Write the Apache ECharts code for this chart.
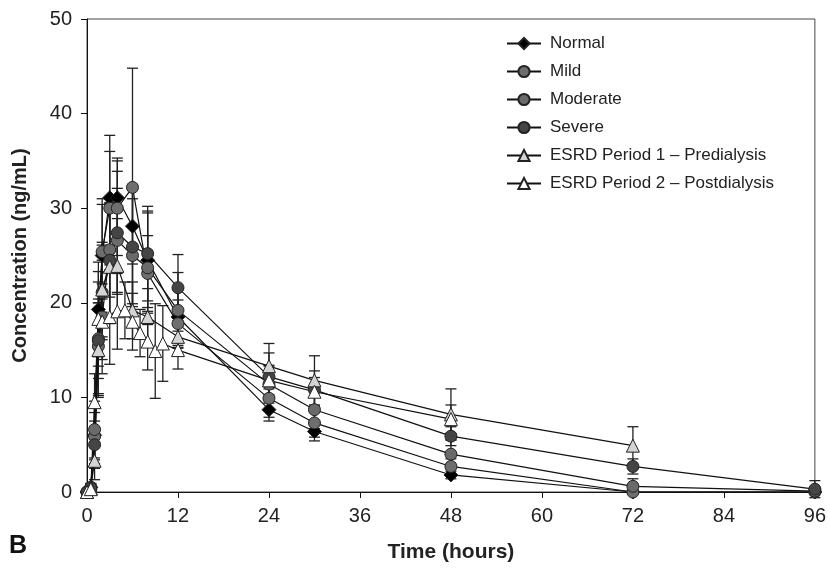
<!DOCTYPE html>
<html><head><meta charset="utf-8">
<script src="https://cdn.jsdelivr.net/npm/echarts@6/dist/echarts.min.js"></script>
<style>html,body{margin:0;padding:0;background:#fff}#c{width:829px;height:568px}</style>
</head><body><div id="c"></div>
<script>
// ---- data ----
var seriesNames = ['Normal','Mild','Moderate','Severe','ESRD Period 1 \u2013 Predialysis','ESRD Period 2 \u2013 Postdialysis'];
var timeStd = [0,0.5,1,1.5,2,3,4,6,8,12,24,30,48,72,96];
var normalMean = [0,0.5,6.0,19.3,25.0,31.1,31.1,28.1,24.5,18.5,8.7,6.4,1.8,0,0];
var normalSD   = [0,0.4,3.0,5.0,6.0,6.6,4.2,4.0,5.0,3.0,1.2,1.0,0.4,0,0];
var mildMean   = [0,0.3,5.9,16.2,25.4,30.0,30.0,32.2,23.1,17.8,9.9,7.3,2.7,0,0];
var mildSD     = [0,0.3,2.5,6.0,5.0,6.0,5.0,12.6,4.0,2.5,2.0,1.5,0.8,0,0];
var modMean    = [0,0.5,6.6,15.4,18.5,25.6,26.6,25.0,23.7,19.2,11.4,8.7,4.0,0.6,0.1];
var modSD      = [0,0.4,3.0,5.0,6.0,5.0,5.5,6.0,6.0,4.0,2.0,2.0,1.5,0.8,0.2];
var sevMean    = [0,0.4,5.0,16.0,21.1,24.5,27.4,25.9,25.2,21.6,12.2,10.8,5.9,2.7,0.3];
var sevSD      = [0,0.4,2.5,4.0,5.0,6.0,6.5,6.0,5.0,3.5,2.5,2.0,1.0,0.8,0.9];
var timeP1 = [0,0.5,1,1.5,2,3,4,6,8,12,24,30,48,72];
var p1Mean = [0,0.4,3.3,15.0,21.4,23.8,23.9,19.2,18.5,16.4,13.3,11.8,8.2,4.9];
var p1SD   = [0,0.3,2.0,5.0,5.0,6.0,5.0,3.0,3.0,2.0,2.4,2.6,2.7,2.0];
var timeP2 = [0,0.5,1,1.5,2,3,4,5,6,7,8,9,10,12,24,30,48];
var p2Mean = [0,0.3,9.5,18.3,18.0,18.5,19.1,19.2,18.0,16.8,15.9,14.9,15.7,15.0,11.8,10.6,7.7];
var p2SD   = [0,0.3,3.0,5.0,4.0,5.0,4.0,3.0,3.0,2.5,3.0,5.0,4.0,2.0,1.5,1.5,1.5];
var xTicks = [0,12,24,36,48,60,72,84,96];

function pairs(t, m){ return t.map(function(x,i){ return [x, m[i]]; }); }
function errData(t, m, s){ return t.map(function(x,i){ return [x, m[i]-s[i], m[i]+s[i]]; }); }

function errSeries(t, m, s){
  return {
    type:'custom', silent:true, z:1,
    data: errData(t, m, s),
    encode:{x:0, y:[1,2]},
    renderItem:function(params, api){
      var x = api.value(0), lo = api.value(1), hi = api.value(2);
      if (hi - lo <= 0) return null;
      var pl = api.coord([x, lo]), ph = api.coord([x, hi]);
      var w = 5.5;
      var st = {stroke:'#222', lineWidth:1.3};
      return {type:'group', children:[
        {type:'line', shape:{x1:pl[0],y1:pl[1],x2:ph[0],y2:ph[1]}, style:st},
        {type:'line', shape:{x1:ph[0]-w,y1:ph[1],x2:ph[0]+w,y2:ph[1]}, style:st},
        {type:'line', shape:{x1:pl[0]-w,y1:pl[1],x2:pl[0]+w,y2:pl[1]}, style:st}
      ]};
    }
  };
}

function lineSeries(name, t, m, symbol, fill, size){
  return {
    name:name, type:'line', z:3, data:pairs(t, m),
    symbol:symbol, symbolSize:size, showSymbol:true,
    lineStyle:{color:'#111', width:1.2},
    itemStyle:{color:fill, borderColor:'#222', borderWidth:1},
    emphasis:{disabled:true}, animation:false
  };
}

var series = [
  errSeries(timeStd, normalMean, normalSD),
  errSeries(timeStd, mildMean, mildSD),
  errSeries(timeStd, modMean, modSD),
  errSeries(timeStd, sevMean, sevSD),
  errSeries(timeP1, p1Mean, p1SD),
  errSeries(timeP2, p2Mean, p2SD),
  lineSeries(seriesNames[0], timeStd, normalMean, 'diamond', '#000', 14),
  lineSeries(seriesNames[1], timeStd, mildMean, 'circle', '#6e6e6e', 12),
  lineSeries(seriesNames[2], timeStd, modMean, 'circle', '#6a6a6a', 12),
  lineSeries(seriesNames[3], timeStd, sevMean, 'circle', '#454545', 12),
  lineSeries(seriesNames[4], timeP1, p1Mean, 'triangle', '#d4d4d4', 13),
  lineSeries(seriesNames[5], timeP2, p2Mean, 'triangle', '#ffffff', 13)
];

var tickFont = '"Liberation Sans Narrow", "Liberation Sans", Arial, sans-serif';
var chart = echarts.init(document.getElementById('c'), null, {renderer:'canvas'});
chart.setOption({
  animation:false,
  backgroundColor:'#fff',
  textStyle:{fontFamily:'Liberation Sans, Arial, sans-serif'},
  grid:{left:87, right:7, top:19, bottom:64, show:true, borderColor:'#444', borderWidth:1},
  legend:{
    data:seriesNames, orient:'vertical', left:501, top:30, itemGap:11,
    itemWidth:34, itemHeight:14,
    textStyle:{fontSize:17, color:'#222', fontFamily:'Liberation Sans, Arial, sans-serif', padding:[0,0,0,4]}
  },
  xAxis:{
    type:'value', min:0, max:96, interval:12,
    axisLine:{lineStyle:{color:'#111', width:1}},
    axisTick:{inside:false, length:6, lineStyle:{color:'#111'}},
    splitLine:{show:false},
    axisLabel:{fontSize:20, color:'#222', margin:14, fontFamily:tickFont,
      formatter:function(v){ return xTicks.indexOf(v) >= 0 ? String(v) : ''; }},
    name:'Time (hours)', nameLocation:'middle', nameGap:50,
    nameTextStyle:{fontSize:21, fontWeight:'bold', color:'#222'}
  },
  yAxis:{
    type:'value', min:0, max:50, interval:10,
    axisLine:{show:true, lineStyle:{color:'#111', width:1}},
    axisTick:{show:true, inside:false, length:6, lineStyle:{color:'#111'}},
    splitLine:{show:false},
    axisLabel:{fontSize:20, color:'#222', margin:15, fontFamily:tickFont},
    name:'Concentration (ng/mL)', nameLocation:'middle', nameGap:57,
    nameTextStyle:{fontSize:20, fontWeight:'bold', color:'#222'}
  },
  graphic:[
    {type:'text', left:9, top:534, style:{text:'B', fontSize:25, fontWeight:'bold', fill:'#111', fontFamily:'Liberation Sans, Arial, sans-serif'}}
  ],
  series:series
});
</script></body></html>
